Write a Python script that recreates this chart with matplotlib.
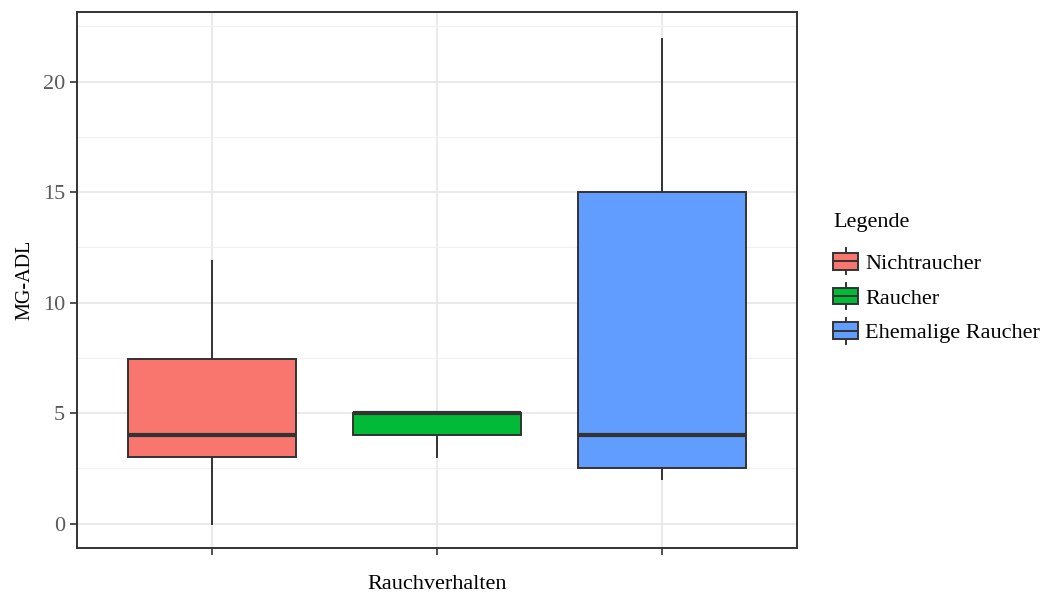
import matplotlib
matplotlib.use("Agg")
import matplotlib.pyplot as plt
from matplotlib.legend_handler import HandlerBase
from matplotlib.patches import Patch, Rectangle
from matplotlib.lines import Line2D
from matplotlib.ticker import MultipleLocator

plt.rcParams['font.family'] = ['Liberation Serif', 'DejaVu Serif']

# data
groups = ["Nichtraucher", "Raucher", "Ehemalige Raucher"]
whislo = [0, 3, 2]
q1 = [3, 4, 2.5]
med = [4, 5, 4]
q3 = [7.45, 5, 15]
whishi = [11.9, 5, 21.95]
colors = ["#F8766D", "#00BA38", "#619CFF"]

edge = "#333333"

fig = plt.figure(figsize=(10.51, 5.95), dpi=100)
ax = fig.add_axes([77/1051, 1 - 548/595, 720/1051, 536/595])

stats = []
for i in range(len(groups)):
    stats.append(dict(label=groups[i], whislo=whislo[i], q1=q1[i], med=med[i],
                      q3=q3[i], whishi=whishi[i], fliers=[]))

bp = ax.bxp(stats, positions=[1, 2, 3], widths=0.75, patch_artist=True,
            showcaps=False, showfliers=False,
            boxprops=dict(edgecolor=edge, linewidth=1.4),
            whiskerprops=dict(color=edge, linewidth=1.4),
            medianprops=dict(color=edge, linewidth=3, solid_capstyle='butt'),
            zorder=3)
for box, c in zip(bp['boxes'], colors):
    box.set_facecolor(c)

ax.set_xlim(0.4, 3.6)
ax.set_ylim(-1.1, 23.15)
ax.set_xticks([1, 2, 3])
ax.set_xticklabels(["", "", ""])
ax.yaxis.set_major_locator(MultipleLocator(5))
ax.yaxis.set_minor_locator(MultipleLocator(2.5))
ax.grid(which='major', color='#e8e8e8', linewidth=1.3, zorder=0)
ax.grid(which='minor', axis='y', color='#f0f0f0', linewidth=0.8, zorder=0)
ax.set_axisbelow(True)
for s in ax.spines.values():
    s.set_color('#333333')
    s.set_linewidth(1.4)
ax.tick_params(axis='both', which='major', length=5, width=1.2, color='#333333',
               labelsize=16, labelcolor='#5a5a5a')
ax.tick_params(axis='y', which='minor', length=0)
ax.set_ylabel("MG-ADL", fontsize=14.5, labelpad=6)
ax.set_xlabel("Rauchverhalten", fontsize=16, labelpad=11)


class BoxHandler(HandlerBase):
    def create_artists(self, legend, orig_handle, xdescent, ydescent,
                       width, height, fontsize, trans):
        fc = orig_handle.get_facecolor()
        w = width
        x0 = -xdescent
        y0 = -ydescent
        rect = Rectangle((x0, y0 + height * 0.08), w, height * 0.84,
                         facecolor=fc, edgecolor=edge, linewidth=1.4, transform=trans)
        cx = x0 + w / 2
        mid = y0 + height / 2
        l1 = Line2D([x0, x0 + w], [mid, mid], color=edge, linewidth=1.4, transform=trans)
        l2 = Line2D([cx, cx], [y0 - height * 0.15, y0 + height * 0.08],
                    color=edge, linewidth=1.4, transform=trans)
        l3 = Line2D([cx, cx], [y0 + height * 0.92, y0 + height * 1.15],
                    color=edge, linewidth=1.4, transform=trans)
        return [l2, l3, rect, l1]


handles = [Patch(facecolor=c, label=g) for c, g in zip(colors, groups)]
leg = fig.legend(handles=handles, loc='upper left', bbox_to_anchor=(824/1051, 1 - 204/595),
                 frameon=False, fontsize=16, title="Legende", title_fontsize=16,
                 handler_map={Patch: BoxHandler()}, handlelength=1.15, handleheight=1.0,
                 handletextpad=0.3, labelspacing=0.55, alignment='left',
                 borderaxespad=0)
leg._legend_box.sep = 14

fig.savefig("out.png", dpi=100)
